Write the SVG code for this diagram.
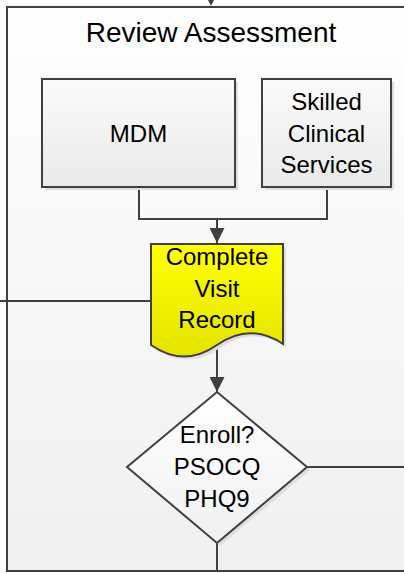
<svg xmlns="http://www.w3.org/2000/svg" width="404" height="573" viewBox="0 0 404 573">
  <defs>
    <linearGradient id="gContainer" x1="0" y1="0" x2="0" y2="1">
      <stop offset="0" stop-color="#fefefe"/>
      <stop offset="1" stop-color="#f0f0f0"/>
    </linearGradient>
    <linearGradient id="gBox" x1="0" y1="0" x2="0" y2="1">
      <stop offset="0" stop-color="#fbfbfb"/>
      <stop offset="1" stop-color="#e9e9e9"/>
    </linearGradient>
    <linearGradient id="gDoc" x1="0" y1="0" x2="0" y2="1">
      <stop offset="0" stop-color="#ffff00"/>
      <stop offset="1" stop-color="#e4e400"/>
    </linearGradient>
    <linearGradient id="gDiamond" x1="0" y1="0" x2="0" y2="1">
      <stop offset="0" stop-color="#ffffff"/>
      <stop offset="1" stop-color="#f0f0f0"/>
    </linearGradient>
    <marker id="arrow" viewBox="0 0 15 15" refX="15" refY="7.5" markerWidth="15" markerHeight="15" markerUnits="userSpaceOnUse" orient="auto">
      <path d="M0,0 L15,7.5 L0,15 Z" fill="#404040"/>
    </marker>
  </defs>
  <style>
    .shape { stroke: #404040; stroke-width: 2; }
    .shadow { fill: #dedede; stroke: none; }
    .conn { fill: none; stroke: #404040; stroke-width: 2; }
    text { font-family: "Liberation Sans", Arial, sans-serif; fill: #000; text-anchor: middle; }
    .label { font-size: 24px; }
    .title { font-size: 28px; }
  </style>

  <!-- swimlane container -->
  <g id="review-assessment">
    <rect class="shape" x="7" y="7" width="410" height="564" fill="url(#gContainer)"/>
    <text class="title" x="211" y="42">Review Assessment</text>
  </g>

  <!-- connectors -->
  <g id="connectors">
    <polygon points="203.5,-9 218.5,-9 211,6" fill="#404040"/>
    <path class="conn" d="M139,187 V219 H327 V187"/>
    <path class="conn" d="M217,219 V243" marker-end="url(#arrow)"/>
    <path class="conn" d="M217,346 V392" marker-end="url(#arrow)"/>
    <path class="conn" d="M151,301 H0"/>
    <path class="conn" d="M307,467 H404"/>
    <path class="conn" d="M217,543 V571"/>
  </g>

  <g id="mdm">
    <rect class="shadow" x="45" y="82" width="193" height="108"/>
    <rect class="shape" x="42" y="79" width="193" height="108" fill="url(#gBox)"/>
    <text class="label" x="138.5" y="142">MDM</text>
  </g>

  <g id="skilled-clinical-services">
    <rect class="shadow" x="265" y="82" width="129" height="108"/>
    <rect class="shape" x="262" y="79" width="129" height="108" fill="url(#gBox)"/>
    <text class="label" x="326.5" y="110">Skilled</text>
    <text class="label" x="326.5" y="142">Clinical</text>
    <text class="label" x="326.5" y="173">Services</text>
  </g>

  <g id="complete-visit-record">
    <path class="shadow" d="M154,247 H286 V347 Q253,325 220,348 Q187,371 154,348 Z"/>
    <path class="shape" d="M151,244 H283 V344 Q250,322 217,345 Q184,368 151,345 Z" fill="url(#gDoc)"/>
    <text class="label" x="217" y="265">Complete</text>
    <text class="label" x="217" y="297">Visit</text>
    <text class="label" x="217" y="328">Record</text>
  </g>

  <g id="enroll-decision">
    <polygon class="shadow" points="220,395 310,470 220,546 130,470"/>
    <polygon class="shape" points="217,392 307,467 217,543 127,467" fill="url(#gDiamond)"/>
    <text class="label" x="217" y="443">Enroll?</text>
    <text class="label" x="217" y="475">PSOCQ</text>
    <text class="label" x="217" y="507">PHQ9</text>
  </g>
</svg>
